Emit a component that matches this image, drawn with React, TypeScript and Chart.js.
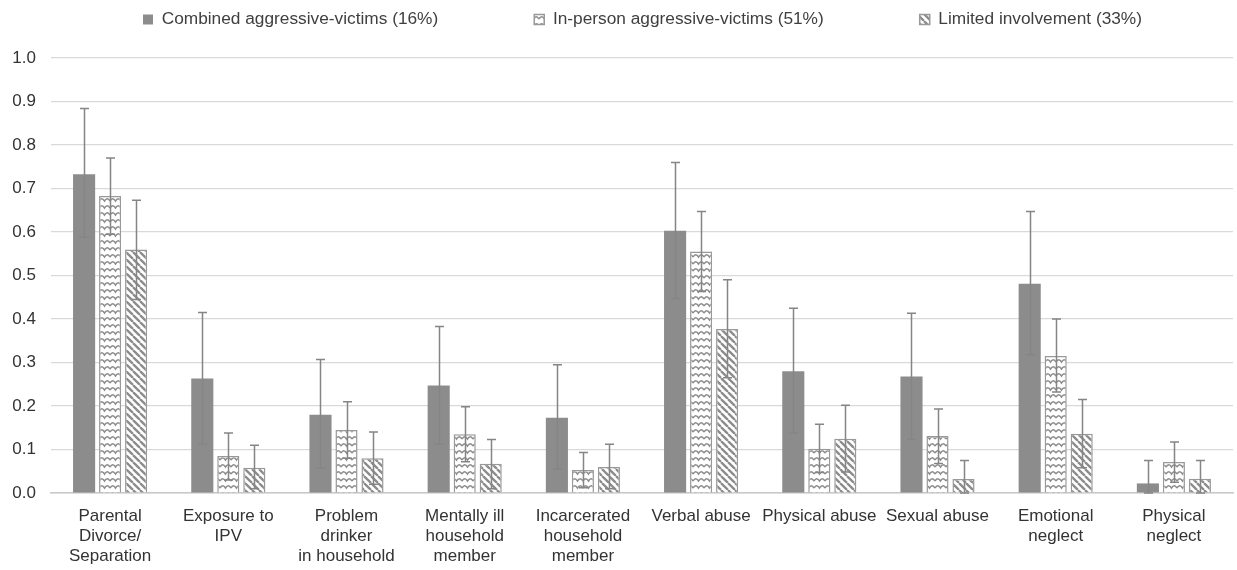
import React, { useEffect, useRef } from "react";
import { Chart, registerables } from "chart.js";

Chart.register(...registerables);

const categories: (string | string[])[] = [
  ["Parental", "Divorce/", "Separation"],
  ["Exposure to", "IPV"],
  ["Problem", "drinker", "in household"],
  ["Mentally ill", "household", "member"],
  ["Incarcerated", "household", "member"],
  "Verbal abuse",
  "Physical abuse",
  "Sexual abuse",
  ["Emotional", "neglect"],
  ["Physical", "neglect"],
];

const seriesNames = [
  "Combined aggressive-victims (16%)",
  "In-person aggressive-victims (51%)",
  "Limited involvement (33%)",
];

const combined = [0.733, 0.263, 0.18, 0.247, 0.173, 0.603, 0.28, 0.268, 0.481, 0.022];
const combinedLow = [0.588, 0.112, 0.057, 0.112, 0.055, 0.447, 0.138, 0.123, 0.318, 0.0];
const combinedHigh = [0.884, 0.415, 0.307, 0.383, 0.295, 0.76, 0.425, 0.413, 0.647, 0.075];

const inPerson = [0.683, 0.085, 0.145, 0.135, 0.053, 0.555, 0.102, 0.131, 0.315, 0.071];
const inPersonLow = [0.595, 0.03, 0.08, 0.072, 0.012, 0.463, 0.047, 0.068, 0.232, 0.025];
const inPersonHigh = [0.77, 0.138, 0.21, 0.198, 0.093, 0.647, 0.158, 0.193, 0.4, 0.117];

const limited = [0.56, 0.058, 0.08, 0.067, 0.06, 0.377, 0.125, 0.032, 0.136, 0.033];
const limitedLow = [0.445, 0.01, 0.02, 0.01, 0.01, 0.265, 0.048, 0.0, 0.058, 0.0];
const limitedHigh = [0.673, 0.11, 0.14, 0.123, 0.112, 0.49, 0.202, 0.075, 0.215, 0.075];

const yTicks = [0, 0.1, 0.2, 0.3, 0.4, 0.5, 0.6, 0.7, 0.8, 0.9, 1.0];

const GRAY = "#8c8c8c";
const LEGEND_GAP = 96;
const LEGEND_FONT = 17.3;

function makeWave(): CanvasPattern | string {
  const c = document.createElement("canvas");
  c.width = 11;
  c.height = 7;
  const ctx = c.getContext("2d");
  if (!ctx) return "#fff";
  ctx.fillStyle = "#ffffff";
  ctx.fillRect(0, 0, 11, 7);
  ctx.strokeStyle = GRAY;
  ctx.lineWidth = 1.5;
  ctx.beginPath();
  ctx.moveTo(0, 5);
  ctx.quadraticCurveTo(2.75, 0.5, 5.5, 5);
  ctx.quadraticCurveTo(8.25, 0.5, 11, 5);
  ctx.stroke();
  return ctx.createPattern(c, "repeat") as CanvasPattern;
}

function makeStripes(): CanvasPattern | string {
  const s = 7;
  const c = document.createElement("canvas");
  c.width = s;
  c.height = s;
  const ctx = c.getContext("2d");
  if (!ctx) return "#fff";
  ctx.fillStyle = "#ffffff";
  ctx.fillRect(0, 0, s, s);
  ctx.strokeStyle = GRAY;
  ctx.lineWidth = 2.3;
  ctx.beginPath();
  for (let k = -1; k <= 1; k++) {
    ctx.moveTo(k * s, 0);
    ctx.lineTo(k * s + s, s);
  }
  ctx.stroke();
  return ctx.createPattern(c, "repeat") as CanvasPattern;
}

const errorBarPlugin = {
  id: "errorBars",
  afterDatasetsDraw(chart: any) {
    const ctx = chart.ctx;
    const yScale = chart.scales.y;
    ctx.save();
    ctx.strokeStyle = "#858585";
    ctx.lineWidth = 1.5;
    chart.data.datasets.forEach((ds: any, i: number) => {
      const meta = chart.getDatasetMeta(i);
      if (meta.hidden) return;
      meta.data.forEach((el: any, j: number) => {
        const lo = ds.errLow[j];
        const hi = ds.errHigh[j];
        const x = Math.round(el.x) + 0.5;
        const yl = yScale.getPixelForValue(lo);
        const yh = yScale.getPixelForValue(hi);
        ctx.beginPath();
        ctx.moveTo(x, yl);
        ctx.lineTo(x, yh);
        ctx.moveTo(x - 4.5, yh);
        ctx.lineTo(x + 4.5, yh);
        ctx.moveTo(x - 4.5, yl);
        ctx.lineTo(x + 4.5, yl);
        ctx.stroke();
      });
    });
    ctx.restore();
  },
};

const legendPlacePlugin = {
  id: "legendPlace",
  beforeInit(chart: any) {
    const lg = chart.legend;
    if (!lg) return;
    const orig = lg.fit;
    lg.fit = function () {
      orig.call(this);
      this.height = 58;
    };
  },
  afterLayout(chart: any) {
    const lg = chart.legend;
    if (!lg) return;
    lg.left = 143 - LEGEND_GAP;
    lg.right = 2400;
    lg.top = 19.5 - LEGEND_GAP - LEGEND_FONT / 2;
  },
};

export default function App() {
  const ref = useRef<HTMLCanvasElement | null>(null);
  useEffect(() => {
    document.body.style.margin = "0";
    if (!ref.current) return;
    const wave = makeWave();
    const stripes = makeStripes();
    const family = "'Liberation Sans', Arial, sans-serif";
    const chart = new Chart(ref.current, {
      type: "bar",
      data: {
        labels: categories,
        datasets: [
          {
            label: seriesNames[0],
            data: combined,
            backgroundColor: GRAY,
            borderColor: GRAY,
            borderWidth: 0,
            errLow: combinedLow,
            errHigh: combinedHigh,
          } as any,
          {
            label: seriesNames[1],
            data: inPerson,
            backgroundColor: wave,
            borderColor: "#999999",
            borderWidth: 1.5,
            errLow: inPersonLow,
            errHigh: inPersonHigh,
          } as any,
          {
            label: seriesNames[2],
            data: limited,
            backgroundColor: stripes,
            borderColor: "#999999",
            borderWidth: 1.5,
            errLow: limitedLow,
            errHigh: limitedHigh,
          } as any,
        ],
      },
      options: {
        responsive: true,
        maintainAspectRatio: false,
        animation: false,
        datasets: {
          bar: { categoryPercentage: 0.66, barPercentage: 0.85 },
        },
        layout: { padding: { left: 0, right: 4, top: 0, bottom: 0 } },
        plugins: {
          legend: {
            position: "top",
            align: "start",
            labels: {
              boxWidth: 10,
              boxHeight: 10,
              padding: LEGEND_GAP,
              color: "#404040",
              font: { family, size: LEGEND_FONT },
            },
          },
          tooltip: { enabled: false },
        },
        scales: {
          x: {
            afterFit: (scale: any) => {
              scale.height = 77;
            },
            grid: { display: false, drawTicks: false },
            border: { display: true, color: "#c8c8c8", width: 1.5 },
            ticks: {
              color: "#333333",
              font: { family, size: 17, lineHeight: 1.18 },
              autoSkip: false,
              maxRotation: 0,
              minRotation: 0,
              padding: 13,
            },
          },
          y: {
            min: 0,
            max: 1,
            afterFit: (scale: any) => {
              scale.width = 51;
            },
            afterBuildTicks: (axis: any) => {
              axis.ticks = yTicks.map((v) => ({ value: v }));
            },
            grid: { color: "#d9d9d9", lineWidth: 1.2, drawTicks: false },
            border: { display: false },
            ticks: {
              color: "#333333",
              font: { family, size: 17 },
              padding: 15,
              callback: (v: any) => Number(v).toFixed(1),
            },
          },
        },
      },
      plugins: [errorBarPlugin, legendPlacePlugin],
    });
    return () => chart.destroy();
  }, []);
  return (
    <div style={{ position: "absolute", left: 0, top: 0, width: 1237, height: 570 }}>
      <canvas ref={ref} />
    </div>
  );
}
